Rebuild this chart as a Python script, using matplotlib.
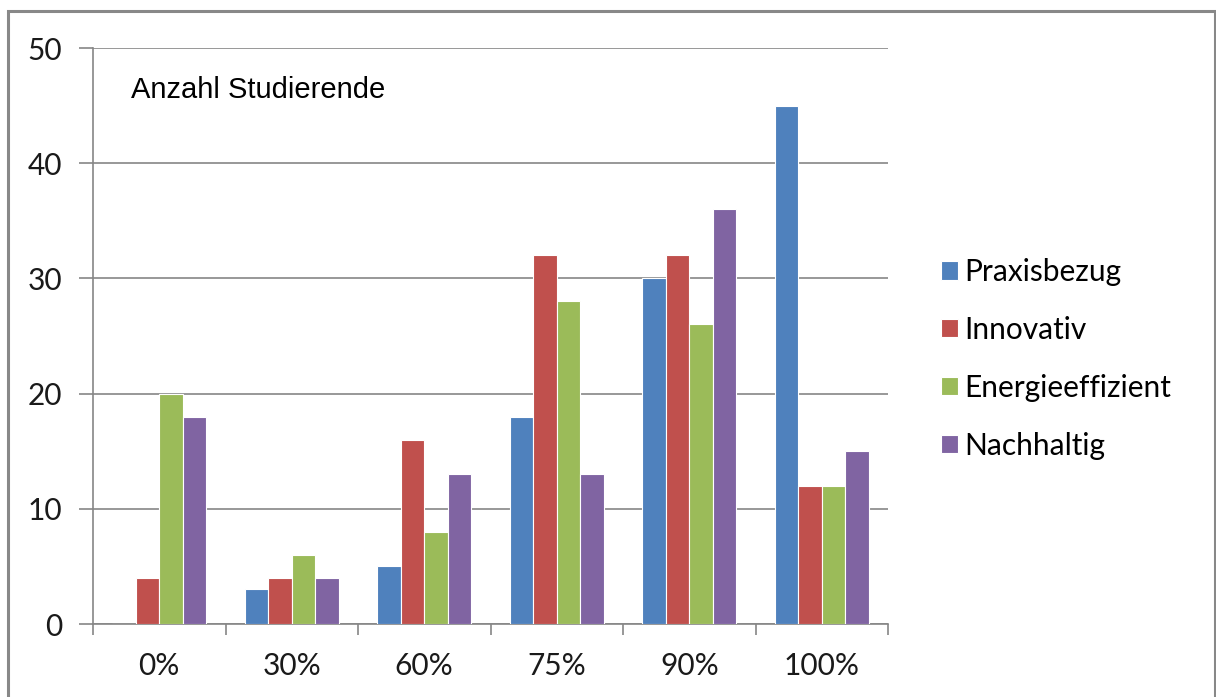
import matplotlib
matplotlib.use("Agg")
import matplotlib.pyplot as plt
import numpy as np
from matplotlib.patches import Rectangle

categories = ["0%", "30%", "60%", "75%", "90%", "100%"]
series_names = ["Praxisbezug", "Innovativ", "Energieeffizient", "Nachhaltig"]
praxisbezug = [0, 3, 5, 18, 30, 45]
innovativ = [4, 4, 16, 32, 32, 12]
energieeffizient = [20, 6, 8, 28, 26, 12]
nachhaltig = [18, 4, 13, 13, 36, 15]
colors = ["#4F81BD", "#C0504D", "#9BBB59", "#8064A2"]
yticks = [0, 10, 20, 30, 40, 50]

series = [praxisbezug, innovativ, energieeffizient, nachhaltig]

W, H = 1216, 697
fig = plt.figure(figsize=(W / 100, H / 100), dpi=100)
fig.patch.set_facecolor("white")

ax_l, ax_r, ax_t, ax_b = 93, 888, 48, 624
ax = fig.add_axes([ax_l / W, (H - ax_b) / H, (ax_r - ax_l) / W, (ax_b - ax_t) / H])

tick_font = "Lato"
x = np.arange(len(categories))
bw = 0.177
for i, (name, vals, c) in enumerate(zip(series_names, series, colors)):
    ax.bar(x + (i - 1.5) * bw, vals, width=bw, color=c, edgecolor="white",
           linewidth=0.8, label=name, zorder=3)

ax.set_xlim(-0.5, len(categories) - 0.5)
ax.set_ylim(0, 50)
ax.set_yticks(yticks)
ax.set_yticklabels([str(v) for v in yticks], fontsize=21.5, family=tick_font, color="#1a1a1a")
ax.set_xticks(x)
ax.set_xticklabels(categories, fontsize=21.5, family=tick_font, color="#1a1a1a")
ax.set_xticks(np.arange(len(categories) + 1) - 0.5, minor=True)
ax.tick_params(axis="x", which="major", length=0, pad=20)
ax.tick_params(axis="x", which="minor", length=8, color="#868686", width=1.2, direction="out")
ax.tick_params(axis="y", length=10, color="#868686", width=1.2, direction="out", pad=12)
ax.grid(axis="y", color="#868686", linewidth=1.2, zorder=0)
for s in ["top", "right"]:
    ax.spines[s].set_visible(False)
for s in ["left", "bottom"]:
    ax.spines[s].set_color("#868686")
    ax.spines[s].set_linewidth(1.2)

ax.text(131 / W, (H - 90) / H, "Anzahl Studierende", transform=fig.transFigure,
        fontsize=21, family="Liberation Sans", va="center", ha="left", color="black")

leg = fig.legend(loc="upper left", bbox_to_anchor=(926 / W, (H - 243) / H),
                 frameon=False, prop={"family": tick_font, "size": 21.5},
                 handlelength=0.57, handleheight=0.57, handletextpad=0.22,
                 labelspacing=1.0, borderpad=0)

fig.add_artist(Rectangle((8 / W, -0.05), (1215 - 8) / W, (H - 11) / H + 0.05,
                         transform=fig.transFigure, fill=False,
                         edgecolor="#888888", linewidth=2.2))

fig.savefig("out.png", dpi=100)
